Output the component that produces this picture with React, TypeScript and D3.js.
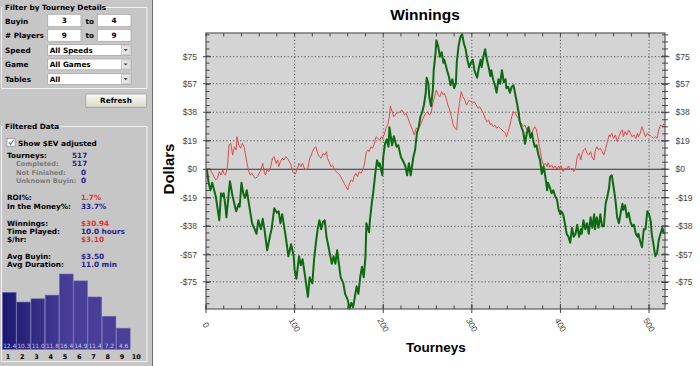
import React from 'react';
import * as d3 from 'd3';

// ---------- data ----------
const greenT = [1,3,5,7,11,15,17,19,20,22,23,27,30,32,34,37,38,40,42,44,46,49,52,55,57,59,62,64,66,69,72,74,77,80,82,84,86,90,93,96,99,100,102,105,107,109,112,115,117,120,122,124,126,128,130,132,134,136,139,142,144,146,148,150,152,155,157,160,162,164,166,168,170,172,174,176,178,180,181,184,185,187,189,191,193,195,196,199,200,202,204,206,207,210,212,215,217,220,222,225,227,229,231,233,234,236,238,240,242,244,246,248,249,251,252,254,256,257,259,260,262,264,266,268,269,272,274,276,278,280,282,283,285,287,289,291,293,295,297,299,301,303,304,306,308,310,311,313,315,317,319,321,322,324,326,328,330,332,334,336,338,339,341,343,345,347,349,351,353,354,356,358,360,362,364,366,368,369,371,373,375,377,379,381,383,385,386,388,390,392,394,396,398,400,401,403,405,407,409,411,413,415,417,419,421,423,424,426,428,430,432,434,436,438,439,441,443,445,447,449,451,453,455,456,458,460,462,464,466,468,470,471,473,475,477,479,481,483,485,487,488,490,492,494,496,498,500,502,503,505,507,509,511,513,515,517];
const greenV = [0,-9,-14,-9,-18,-34,-16,-18,-16,-25,-32,-8,-18,-23,-28,-23,-25,-9,-16,-19,-14,-25,-36,-40,-43,-34,-40,-33,-40,-54,-45,-40,-26,-29,-28,-36,-30,-45,-58,-50,-58,-67,-73,-58,-64,-60,-72,-85,-72,-76,-60,-49,-40,-34,-40,-35,-34,-45,-54,-63,-58,-63,-54,-63,-72,-76,-83,-87,-93,-89,-92,-85,-78,-83,-72,-65,-72,-58,-36,-42,-34,-23,-14,-3,6,2,4,-4,8,17,20,15,28,16,22,15,16,8,6,2,-4,4,-4,4,8,13,24,28,35,38,43,51,61,57,48,42,53,66,77,86,82,75,78,71,73,66,62,56,60,54,57,71,82,88,90,84,80,73,68,71,73,66,64,61,68,73,68,75,80,73,68,62,66,60,56,51,60,57,66,58,60,54,55,51,55,56,50,44,37,32,28,25,17,24,28,21,24,20,15,16,10,6,-3,2,-5,-14,-9,-12,-16,-14,-18,-20,-27,-30,-28,-30,-36,-43,-45,-49,-39,-45,-43,-37,-45,-40,-43,-34,-40,-36,-43,-32,-39,-30,-40,-32,-39,-30,-38,-38,-23,-18,-12,-5,-4,-12,-20,-32,-36,-29,-23,-27,-24,-32,-29,-35,-38,-37,-43,-45,-43,-48,-52,-40,-40,-28,-30,-35,-43,-50,-58,-56,-47,-43,-39,-43];

const redT = [1,2,4,6,8,11,13,15,17,19,20,22,24,26,28,30,32,34,35,37,39,41,43,45,47,49,50,52,54,56,58,60,62,64,66,67,69,71,73,75,77,79,81,82,84,86,88,90,92,94,96,97,99,101,103,105,107,109,111,113,115,117,119,120,122,124,126,128,130,132,134,136,137,139,141,143,145,147,149,151,152,154,156,158,160,162,164,166,167,169,171,173,175,177,179,181,183,184,186,188,190,192,194,196,198,199,201,203,205,207,208,212,215,219,221,224,226,228,230,233,235,237,240,243,245,248,250,252,254,256,258,260,262,264,266,268,269,271,273,275,277,279,281,283,284,286,288,290,292,294,296,297,299,301,303,305,307,309,311,313,315,317,319,321,322,324,326,328,330,332,334,336,338,339,341,343,345,347,349,351,353,354,356,358,360,362,364,366,368,369,371,373,375,377,379,381,383,385,386,388,390,392,394,396,398,400,401,403,405,407,409,411,413,415,417,419,421,423,424,426,428,430,432,434,436,438,439,441,443,445,447,449,451,453,455,456,458,460,462,464,466,468,470,471,473,475,477,479,481,483,485,487,488,490,492,494,496,498,500,502,503,505,507,509,511,513,515,517];
const redV = [0,-0.4,0.6,-1.6,-3.8,-7.1,-6,-1.6,-3.8,-0.4,-2.7,-3.8,0.6,16.2,17.3,9.5,15,12.8,21.7,16.2,14,17.3,15,8.4,1.7,-2.7,-3.8,-2.7,-4.9,-6,-4.9,-2.7,-0.4,4,-2.7,-3.8,-0.4,-1.6,1.7,7.3,8.4,4,6.2,1.7,5.1,7.3,6.2,8.4,7.3,5.1,2.8,-0.4,-2.7,-3.1,0.5,4,1.7,4,0.6,-0.4,0.6,7.3,9.5,11.7,14,15,10.6,8.4,7.3,10.6,9.5,11.7,7.3,5.1,1.7,2.8,-0.4,-1.6,-2.7,-3.8,-4.9,-7.1,-9.3,-11.6,-13.8,-9.3,-7.1,-8.2,-4.9,-2.7,-4.9,-1.6,-2.7,-0.4,4,11.7,12.8,11.7,15,14,17.3,21.7,20.6,19.5,21.7,20.6,22.8,27.3,29.5,35,42.2,35,37.3,38.4,39.5,36.2,37.3,34,30.6,26.2,22.9,27.3,27.3,30.6,34,37.3,38.4,36.2,37.3,44,48.4,52.8,49.5,48.4,51.7,49.5,50.6,47.3,42.8,39.5,35,29.5,27.3,26.2,35,44,51.7,48.4,46.2,42.8,45,46.2,45,44,45,42.8,40.6,41.7,39.5,37.3,34,31.7,32.8,29.5,30.6,28.4,29.5,27.3,28.4,27.3,26.2,25.1,24,21.7,25.1,29.5,35,38.4,37.3,35,34,31.7,30.6,28.4,29.5,26.2,28.4,25.1,24,26.2,28.4,26.2,19.5,12.9,6.2,2.9,4,1.7,4.4,1.3,2.9,0.7,2.2,0,2.2,-0.4,2.2,-1.6,0.7,-0.4,2.2,-0.4,0.7,-1.6,0.7,8.4,10.6,6.2,9.5,12.9,14,10.6,9.5,11.7,7.3,6.2,11.7,15,12.9,14,11.7,9.5,14,18.4,22.9,21.7,24,20.6,22.9,18.4,21.7,25.1,26.2,21.7,25.1,22.9,26.2,24,21.7,22.9,20.6,24,21.7,24,28.4,25.1,21.7,24,22.9,22.2,21.7,20.6,21.7,20.6,26.2,29.5,28.4,30.6];

const yTicks = [-75, -57, -38, -19, 0, 19, 38, 57, 75];
const yTickLabels = ['-$75', '-$57', '-$38', '-$19', '$0', '$19', '$38', '$57', '$75'];
const xTicks = [0, 100, 200, 300, 400, 500];

const histCats = ['1', '2', '3', '4', '5', '6', '7', '8', '9', '10'];
const histVals = [12.4, 10.3, 11.0, 11.8, 16.4, 14.9, 11.4, 7.2, 4.6, 0];
const histLabels = ['12.4', '10.3', '11.0', '11.8', '16.4', '14.9', '11.4', '7.2', '4.6', ''];

const statRows = [
  { label: 'Tourneys:', value: '517', sub: false, color: 'blue', y: 158, vx: 72 },
  { label: 'Completed:', value: '517', sub: true, color: 'blue', y: 166.3, vx: 72 },
  { label: 'Not Finished:', value: '0', sub: true, color: 'blue', y: 174.6, vx: 81 },
  { label: 'Unknown Buyin:', value: '0', sub: true, color: 'blue', y: 183, vx: 81 },
  { label: 'ROI%:', value: '1.7%', sub: false, color: 'red', y: 200, vx: 81 },
  { label: 'In the Money%:', value: '33.7%', sub: false, color: 'blue', y: 208.5, vx: 81 },
  { label: 'Winnings:', value: '$30.94', sub: false, color: 'red', y: 225.5, vx: 81 },
  { label: 'Time Played:', value: '10.0 hours', sub: false, color: 'blue', y: 233.5, vx: 81 },
  { label: '$/hr:', value: '$3.10', sub: false, color: 'red', y: 241.5, vx: 81 },
  { label: 'Avg Buyin:', value: '$3.50', sub: false, color: 'blue', y: 258.5, vx: 81 },
  { label: 'Avg Duration:', value: '11.0 min', sub: false, color: 'blue', y: 267, vx: 81 },
];

const PF = "'DejaVu Sans', Verdana, sans-serif";
const CF = "'Liberation Sans', Arial, sans-serif";

function InputBox({ x, y, w, h, text, center }: any) {
  return (
    <g>
      <rect x={x} y={y} width={w} height={h} fill="#fff" stroke="#a8a8a8" strokeWidth={0.8} />
      <text x={center ? x + w / 2 : x + 2} y={y + h / 2 + 2.6} textAnchor={center ? 'middle' : 'start'}
        fontFamily={PF} fontWeight="bold" fontSize={7.3} fill="#000">{text}</text>
    </g>
  );
}

function SelectBox({ x, y, w, h, text }: any) {
  return (
    <g>
      <InputBox x={x} y={y} w={w} h={h} text={text} center={false} />
      <rect x={x + w - 9.5} y={y + 1} width={8.5} height={h - 2} fill="#e4e4e4" stroke="#b8b8b8" strokeWidth={0.6} />
      <path d={`M${x + w - 7.3},${y + h / 2 - 1} l4,0 l-2,2.2 z`} fill="#404040" />
    </g>
  );
}

export default function App() {
  const x = d3.scaleLinear().domain([0, 518]).range([206, 665]);
  const y = d3.scaleLinear().domain([-93.1, 90.8]).range([309, 33]);
  const [L, R, T, B] = [206, 665, 33, 309];

  const line = d3.line<[number, number]>().x(d => x(d[0])).y(d => y(d[1]));
  const greenPts = greenT.map((t, i) => [t, greenV[i]] as [number, number]);
  const redPts = redT.map((t, i) => [t, redV[i]] as [number, number]);

  const yStep = (y.invert(y(0) - 28.3) - 0);
  const minorY: number[] = [];
  for (let v = 0; v <= 90.8; v += yStep / 4) minorY.push(v);
  for (let v = -yStep / 4; v >= -93.1; v -= yStep / 4) minorY.push(v);
  const minorX = d3.range(0, 519, 20);

  const xb = d3.scaleBand().domain(histCats).range([2.5, 145]).paddingInner(0);
  const yb = d3.scaleLinear().domain([0, 20]).range([349.3, 257.5]);

  const blue = '#26238c';
  const red = '#e8322c';

  return (
    <svg width={700} height={366} style={{ position: 'absolute', left: 0, top: 0, background: '#fff' }}>
      <defs>
        <linearGradient id="barGrad" gradientUnits="userSpaceOnUse" x1={0} y1={0} x2={70} y2={0}>
          <stop offset="0" stopColor="#1a166e" />
          <stop offset="1" stopColor="#4a3f98" />
        </linearGradient>
        <linearGradient id="btnGrad" x1={0} y1={0} x2={0} y2={1}>
          <stop offset="0" stopColor="#fafaf4" />
          <stop offset="1" stopColor="#d8d8cc" />
        </linearGradient>
      </defs>
      <rect x={0} y={0} width={700} height={366} fill="#fff" />

      {/* ---------- left panel ---------- */}
      <rect x={0} y={0} width={152} height={366} fill="#c6c6c6" />
      <line x1={152.5} y1={0} x2={152.5} y2={366} stroke="#6e6e6e" strokeWidth={1} />

      {/* group box 1 */}
      <path d="M3,7.5 L1.5,7.5 L1.5,88.5 L147,88.5 L147,7.5 L103,7.5" fill="none" stroke="#f2f2f2" strokeWidth={1} />
      <text x={5} y={9.8} fontFamily={PF} fontWeight="bold" fontSize={7.3} fill="#000">Filter by Tourney Details</text>

      <text x={5} y={23.6} fontFamily={PF} fontWeight="bold" fontSize={7.3}>Buyin</text>
      <InputBox x={47.7} y={14.3} w={33.3} h={12.4} text="3" center />
      <text x={85.5} y={23.6} fontFamily={PF} fontWeight="bold" fontSize={7.3}>to</text>
      <InputBox x={97.3} y={14.3} w={33.7} h={12.4} text="4" center />

      <text x={5} y={37.8} fontFamily={PF} fontWeight="bold" fontSize={7.3}># Players</text>
      <InputBox x={47.7} y={29.3} w={33.3} h={12} text="9" center />
      <text x={85.5} y={37.8} fontFamily={PF} fontWeight="bold" fontSize={7.3}>to</text>
      <InputBox x={97.3} y={29.3} w={33.7} h={12} text="9" center />

      <text x={5} y={52.6} fontFamily={PF} fontWeight="bold" fontSize={7.3}>Speed</text>
      <SelectBox x={47.7} y={44.7} w={83.3} h={10.8} text="All Speeds" />
      <text x={5} y={67} fontFamily={PF} fontWeight="bold" fontSize={7.3}>Game</text>
      <SelectBox x={47.7} y={59} w={83.3} h={10.8} text="All Games" />
      <text x={5} y={81.6} fontFamily={PF} fontWeight="bold" fontSize={7.3}>Tables</text>
      <SelectBox x={47.7} y={73.7} w={83.3} h={10.8} text="All" />

      {/* refresh button */}
      <rect x={85.7} y={94} width={61} height={13.3} fill="url(#btnGrad)" stroke="#9a9a9a" strokeWidth={0.8} rx={1} />
      <text x={116} y={103.2} textAnchor="middle" fontFamily={PF} fontWeight="bold" fontSize={7.3}>Refresh</text>

      {/* group box 2 */}
      <path d="M3,126.5 L1.5,126.5 L1.5,361.5 L147,361.5 L147,126.5 L57,126.5" fill="none" stroke="#f2f2f2" strokeWidth={1} />
      <text x={5} y={128.8} fontFamily={PF} fontWeight="bold" fontSize={7.3}>Filtered Data</text>

      <rect x={7} y={138.5} width={8} height={8} fill="#fff" stroke="#8a8a8a" strokeWidth={0.7} />
      <path d="M8.8,142.5 L10.6,144.6 L13.6,140" fill="none" stroke="#7080a8" strokeWidth={1.2} />
      <text x={18} y={145.5} fontFamily={PF} fontWeight="bold" fontSize={7.3}>Show $EV adjusted</text>

      {statRows.map(r => (
        <g key={r.label}>
          <text x={r.sub ? 16 : 7} y={r.y} fontFamily={PF} fontWeight="bold" fontSize={r.sub ? 6.6 : 7.3}
            fill={r.sub ? '#7c7c7c' : '#000'}>{r.label}</text>
          <text x={r.vx} y={r.y} fontFamily={PF} fontWeight="bold" fontSize={7.3}
            fill={r.color === 'red' ? red : blue}>{r.value}</text>
        </g>
      ))}

      {/* histogram */}
      {histCats.map((c, i) => (
        histVals[i] > 0 ? (
          <rect key={'b' + c} x={xb(c)!} y={yb(histVals[i])} width={xb.bandwidth() - 0.6}
            height={yb(0) - yb(histVals[i])} fill="url(#barGrad)" stroke="#6c68b4" strokeWidth={0.6} />
        ) : null
      ))}
      {histCats.map((c, i) => (
        <text key={'v' + c} x={xb(c)! + xb.bandwidth() / 2} y={348} textAnchor="middle"
          fontFamily={PF} fontSize={5.8} fill="#c8c8f4">{histLabels[i]}</text>
      ))}
      {histCats.map(c => (
        <text key={'c' + c} x={xb(c)! + xb.bandwidth() / 2 - 1.5} y={359} textAnchor="middle"
          fontFamily={PF} fontWeight="bold" fontSize={6.5} fill="#000">{c}</text>
      ))}

      {/* ---------- chart ---------- */}
      <text x={425} y={19.5} textAnchor="middle" fontFamily={CF} fontWeight="bold" fontSize={15.5} fill="#000">Winnings</text>

      <rect x={L} y={T} width={R - L} height={B - T} fill="#d4d4d4" />

      {/* grid */}
      {yTicks.filter(v => v !== 0).map(v => (
        <line key={'gy' + v} x1={L} x2={R} y1={y(v)} y2={y(v)} stroke="#555" strokeWidth={1} strokeDasharray="1.2,2.2" />
      ))}
      {xTicks.filter(v => v !== 0).map(v => (
        <line key={'gx' + v} x1={x(v)} x2={x(v)} y1={T} y2={B} stroke="#555" strokeWidth={1} strokeDasharray="1.2,2.2" />
      ))}
      <line x1={L} x2={R} y1={y(0)} y2={y(0)} stroke="#333" strokeWidth={1.1} />

      {/* series */}
      <path d={line(redPts)!} fill="none" stroke="#e24a4a" strokeWidth={1} strokeLinejoin="round" />
      <path d={line(greenPts)!} fill="none" stroke="#0d6a10" strokeWidth={2} strokeLinejoin="round" />

      {/* frame */}
      <rect x={L} y={T} width={R - L} height={B - T} fill="none" stroke="#5a5a5a" strokeWidth={1.2} />

      {/* minor ticks */}
      {minorY.map((v, i) => (
        <g key={'my' + i}>
          <line x1={L} x2={L + 3.5} y1={y(v)} y2={y(v)} stroke="#444" />
          <line x1={R - 3} x2={R + 3} y1={y(v)} y2={y(v)} stroke="#444" />
        </g>
      ))}
      {minorX.map(v => (
        <g key={'mx' + v}>
          <line x1={x(v)} x2={x(v)} y1={T} y2={T + 3.5} stroke="#444" />
          <line x1={x(v)} x2={x(v)} y1={B} y2={B - 3.5} stroke="#444" />
        </g>
      ))}
      {/* major ticks + labels */}
      {yTicks.map((v, i) => (
        <g key={'ty' + v}>
          <line x1={L - 3} x2={L + 5} y1={y(v)} y2={y(v)} stroke="#444" />
          <line x1={R - 4} x2={R + 4.5} y1={y(v)} y2={y(v)} stroke="#444" />
          <text x={197} y={y(v)} dy="0.35em" textAnchor="end" fontFamily={CF} fontSize={8.5} fill="#444">{yTickLabels[i]}</text>
          <text x={675.5} y={y(v)} dy="0.35em" textAnchor="start" fontFamily={CF} fontSize={8.5} fill="#444">{yTickLabels[i]}</text>
        </g>
      ))}
      {xTicks.map(v => (
        <g key={'tx' + v}>
          <line x1={x(v)} x2={x(v)} y1={B - 5} y2={B + 4} stroke="#444" />
          <text transform={`translate(${x(v)},${325}) rotate(60)`} textAnchor="middle" dy="0.35em"
            fontFamily={CF} fontSize={8.5} fill="#444">{v}</text>
        </g>
      ))}

      <text transform="translate(174,169) rotate(-90)" textAnchor="middle" fontFamily={CF} fontWeight="bold" fontSize={15} fill="#000">Dollars</text>
      <text x={436} y={352} textAnchor="middle" fontFamily={CF} fontWeight="bold" fontSize={13.5} fill="#000">Tourneys</text>
    </svg>
  );
}
